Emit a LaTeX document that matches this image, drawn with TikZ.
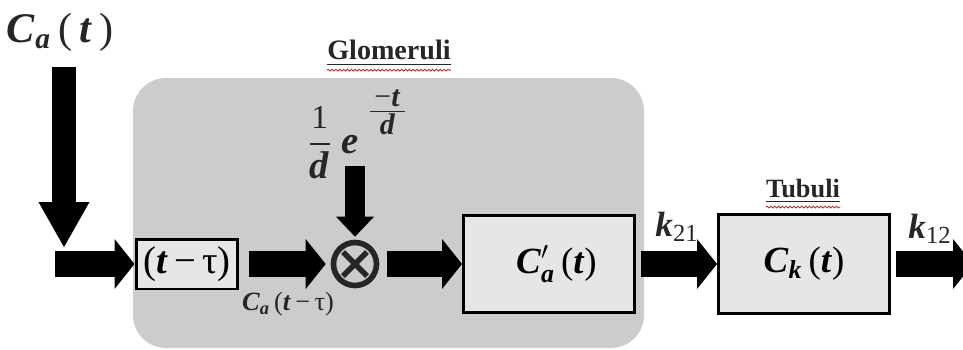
\documentclass[tikz,border=0pt]{standalone}
\usepackage{fontspec}
\setmainfont{Liberation Serif}
\usepackage{amsmath}
\usepackage{xcolor}
\usetikzlibrary{arrows.meta,positioning,decorations.pathmorphing}
\definecolor{glomgray}{HTML}{CCCCCC}
\definecolor{boxgray}{HTML}{E6E6E6}
\definecolor{inkgray}{HTML}{262626}
\definecolor{squiggle}{HTML}{B03030}
\newcommand{\bi}[1]{\textbf{\textit{#1}}}
\newcommand{\fs}[1]{\fontsize{#1}{#1}\selectfont}

\begin{document}
\begin{tikzpicture}[x=0.02cm,y=-0.02cm,
  n/.style={draw,line width=1.7pt,fill=boxgray,inner sep=0pt,font=\fs{21}},
  a/.style={line width=0.52cm,-{Triangle[length=0.4cm,width=1cm,line width=0pt]}},
  lbl/.style={inner sep=0pt,text=inkgray},
  ttl/.style={lbl,font=\bfseries\fs{16}},
  wavy/.style={squiggle,line width=0.5pt,decorate,decoration={snake,amplitude=0.5pt,segment length=2.2pt}}]
\useasboundingbox (0,0) rectangle (963,349);
% glomeruli region
\fill[glomgray,rounded corners=0.66cm] (133,78) rectangle (644,348);

\node[lbl,font=\fs{24}](ca) at (60,32){$\text{\bi{C}}_{\text{\bi{a}}}\,\text{(\,\bi{t}\,)}$};
\node[ttl](glom) at (389,53){\underline{Glomeruli}};
\node[ttl,font=\bfseries\fs{15}](tub) at (803,191){\underline{Tubuli}};
\draw[wavy]([yshift=-2.2pt]glom.south west)--([yshift=-2.2pt]glom.south east);
\draw[wavy]([yshift=-2.2pt]tub.south west)--([yshift=-2.2pt]tub.south east);

\node[n,minimum width=2.04cm,minimum height=1cm,font=\fs{22}](delay) at (187,264){(\bi{t}\,−\,τ)};
\node[draw=inkgray,line width=3.2pt,circle,minimum size=0.86cm,inner sep=0pt](mult) at (355,264){};
\draw[inkgray,line width=3.2pt](mult.center)++(-12,-12)--++(24,24);
\draw[inkgray,line width=3.2pt](mult.center)++(-12,12)--++(24,-24);
\node[n,minimum width=3.42cm,minimum height=1.94cm](capr) at (549,264){\hspace*{0.3cm}$\text{\bi{C}}^{\prime}_{\text{\bi{a}}}\,\text{(\bi{t})}$};
\node[n,minimum width=3.42cm,minimum height=1.98cm](ck) at (804,264){$\text{\bi{C}}_{\text{\bi{k}}}\,\text{(\bi{t})}$};

\node[lbl,font=\fs{22},anchor=south](kern) at (358,179){$\dfrac{\text{\fs{19}1}}{\text{\bi{d}}}\;\text{\bi{e}}^{\,\,\raisebox{11pt}{$\frac{\text{\fs{17}\,−\bi{t}\,}}{\text{\fs{17}\bi{d}}}$}}$};
\node[lbl,font=\fs{15}](catau) at (288,304){$\text{\bi{C}}_{\text{\bi{a}}}\,\text{(\bi{t}\,−\,τ)}$};
\node[lbl,font=\fs{20}](k21) at (677,227){$\text{\bi{k}}_{\text{21}}$};
\node[lbl,font=\fs{20}](k12) at (930,229){$\text{\bi{k}}_{\text{12}}$};

\coordinate(src) at (64,67);
\coordinate(drop) at (64,247);
\coordinate(in) at (55,264);
\coordinate(ktop) at (355,166);
\coordinate(out) at (973,264);

\draw[line width=0.48cm,-{Triangle[length=0.9cm,width=1.02cm,line width=0pt]}](src)--(drop);
\draw[a](in)--(delay);
\draw[a,shorten <=0.2cm,shorten >=0.1cm](delay)--(mult);
\draw[line width=0.4cm,-{Triangle[length=0.4cm,width=0.76cm,line width=0pt]},shorten >=0.06cm](ktop)--(mult);
\draw[a,shorten <=0.16cm](mult)--(capr);
\draw[a,shorten <=0.1cm](capr)--(ck);
\draw[a,shorten <=0.1cm](ck)--(out);
\end{tikzpicture}
\end{document}
